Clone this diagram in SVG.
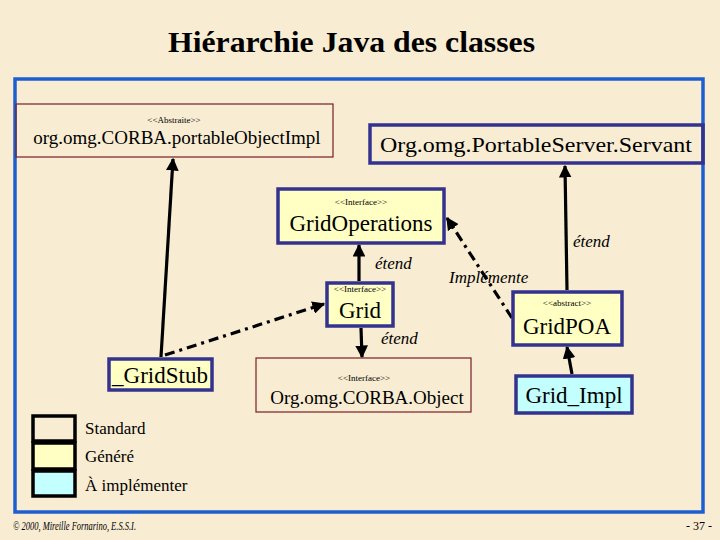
<svg xmlns="http://www.w3.org/2000/svg" width="720" height="540" viewBox="0 0 720 540">
<defs>
<style>
.std{fill:none;stroke:#7a1f28;stroke-width:1.2}
.gen{fill:#ffffc4;stroke:#33338f;stroke-width:3.5}
.imp{fill:#c4ffff;stroke:#33338f;stroke-width:3.5}
.srv{fill:none;stroke:#33338f;stroke-width:3.5}
.t{font-family:"Liberation Serif","Times New Roman",serif;fill:#000}
.st{font-size:9px;text-anchor:middle}
.nm{text-anchor:middle}
.lbl{font-family:"Liberation Serif","Times New Roman",serif;font-style:italic;font-size:17px;fill:#000}
.sol{stroke:#000;stroke-width:3.2;fill:none}
.dd{stroke:#000;stroke-width:3.2;fill:none;stroke-dasharray:10 5 3 5}
.leg{stroke:#000;stroke-width:3.5}
</style>
<marker id="ah" viewBox="0 0 10 10" refX="9" refY="5" markerWidth="4" markerHeight="4" markerUnits="strokeWidth" orient="auto">
<path d="M0,0 L10,5 L0,10 Z" fill="#000"/>
</marker>
</defs>
<rect width="720" height="540" fill="#f8ecd2"/>
<text class="t" x="168" y="52" font-size="29" font-weight="bold" textLength="367" lengthAdjust="spacingAndGlyphs">Hiérarchie Java des classes</text>
<rect x="15" y="79" width="688" height="433" fill="none" stroke="#1e5fcf" stroke-width="3.5"/>

<g id="connectors">
<line class="sol" x1="161" y1="357" x2="173" y2="159" marker-end="url(#ah)"/>
<line class="dd" x1="165" y1="355" x2="324" y2="304" marker-end="url(#ah)"/>
<line class="sol" x1="359" y1="281" x2="359" y2="245" marker-end="url(#ah)"/>
<line class="sol" x1="361" y1="328" x2="362" y2="357" marker-end="url(#ah)"/>
<line class="sol" x1="567" y1="290" x2="565" y2="166" marker-end="url(#ah)"/>
<line class="dd" x1="512" y1="318" x2="447" y2="218" marker-end="url(#ah)"/>
<line class="sol" x1="572" y1="374" x2="567" y2="347" marker-end="url(#ah)"/>
<text class="lbl" x="375" y="269">étend</text>
<text class="lbl" x="381" y="344">étend</text>
<text class="lbl" x="573" y="247">étend</text>
<text class="lbl" x="449" y="283">Implémente</text>
</g>

<g id="portableObjectImpl">
<rect class="std" x="16" y="104" width="317" height="53"/>
<text class="t st" x="174" y="123">&lt;&lt;Abstraite&gt;&gt;</text>
<text class="t nm" x="177" y="144" font-size="19">org.omg.CORBA.portableObjectImpl</text>
</g>
<g id="Servant">
<rect class="srv" x="370" y="125" width="333" height="38"/>
<text class="t" x="380" y="152" font-size="22" textLength="312" lengthAdjust="spacingAndGlyphs">Org.omg.PortableServer.Servant</text>
</g>
<g id="GridOperations">
<rect class="gen" x="278" y="189" width="166" height="54"/>
<text class="t st" x="361" y="205">&lt;&lt;Interface&gt;&gt;</text>
<text class="t nm" x="361" y="231" font-size="23">GridOperations</text>
</g>
<g id="Grid">
<rect class="gen" x="327" y="283" width="66" height="43"/>
<text class="t st" x="360" y="292">&lt;&lt;Interface&gt;&gt;</text>
<text class="t nm" x="360" y="318" font-size="23">Grid</text>
</g>
<g id="GridPOA">
<rect class="gen" x="513" y="292" width="109" height="53"/>
<text class="t st" x="567" y="306">&lt;&lt;abstract&gt;&gt;</text>
<text class="t nm" x="567" y="334" font-size="23">GridPOA</text>
</g>
<g id="GridStub">
<rect class="gen" x="109" y="359" width="103" height="31"/>
<text class="t nm" x="160" y="383" font-size="23">_GridStub</text>
</g>
<g id="CorbaObject">
<rect class="std" x="256" y="358" width="215" height="54"/>
<text class="t st" x="364" y="381">&lt;&lt;Interface&gt;&gt;</text>
<text class="t nm" x="367" y="404" font-size="19">Org.omg.CORBA.Object</text>
</g>
<g id="GridImpl">
<rect class="imp" x="516" y="376" width="116" height="37"/>
<text class="t nm" x="574" y="403" font-size="23">Grid_Impl</text>
</g>

<g id="legend">
<rect class="leg" x="33" y="416" width="42" height="25" fill="#f8ecd2"/>
<rect class="leg" x="33" y="443" width="42" height="26" fill="#ffffc4"/>
<rect class="leg" x="33" y="471" width="42" height="25" fill="#c4ffff"/>
<text class="t" x="85" y="434" font-size="17">Standard</text>
<text class="t" x="85" y="462" font-size="17">Généré</text>
<text class="t" x="85" y="491" font-size="17">À implémenter</text>
</g>
<text class="t" x="13" y="530" font-size="12" font-style="italic" textLength="123" lengthAdjust="spacingAndGlyphs">© 2000, Mireille Fornarino, E.S.S.I.</text>
<text class="t" x="712" y="530" font-size="12" text-anchor="end">- 37 -</text>
</svg>
